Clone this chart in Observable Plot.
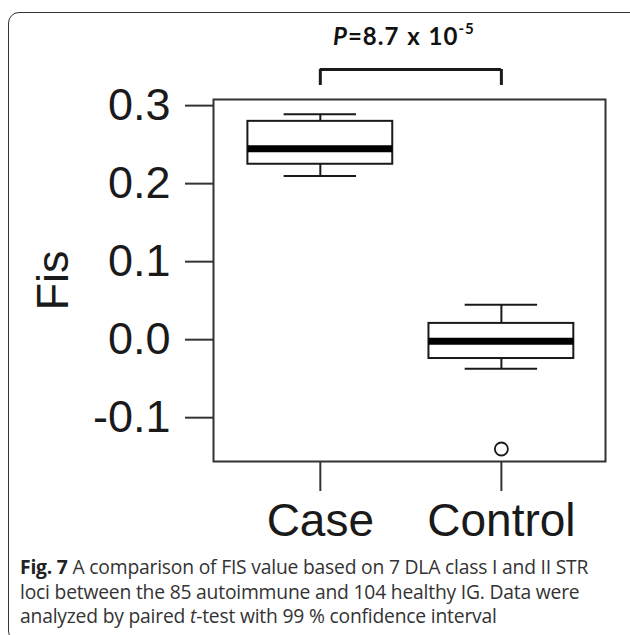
<!DOCTYPE html>
<html>
<head>
<meta charset="utf-8">
<script src="https://cdn.jsdelivr.net/npm/d3@7"></script>
<script src="https://cdn.jsdelivr.net/npm/@observablehq/plot@0.6"></script>
<style>
  html, body { margin: 0; padding: 0; background: #fff; overflow: hidden; }
  #page { position: relative; width: 630px; height: 635px; overflow: hidden; }
  #border { position: absolute; left: 8px; top: 12px; width: 640px; height: 630px;
            border: 1.5px solid #333; border-radius: 11px; box-sizing: border-box; }
  #chart { position: absolute; left: 0; top: 0; }
  #ptitle { position: absolute; left: 333px; top: 21px; font-family: Lato, "Open Sans", sans-serif;
            font-weight: 700; font-size: 24px; color: #111; white-space: nowrap; letter-spacing: 1px; word-spacing: 1px; }
  #ptitle sup { font-size: 15px; position: relative; top: -2px; }
  #caption { position: absolute; left: 20px; top: 555px; font-family: "Open Sans", sans-serif;
             font-size: 19.3px; line-height: 24.5px; color: #333; white-space: nowrap; letter-spacing: -0.2px; }
  #caption b { font-weight: 700; color: #222; }
</style>
</head>
<body>
<div id="page">
  <div id="border"></div>
  <div id="chart"></div>
  <div id="ptitle"><i>P</i>=8.7 x 10<sup>-5</sup></div>
  <div id="caption"><b>Fig. 7</b> A comparison of FIS value based on 7 DLA class I and II STR<br>loci between the 85 autoimmune and 104 healthy IG. Data were<br>analyzed by paired <i>t</i>-test with 99 % confidence interval</div>
</div>
<script>
// Data
const groups    = ["Case", "Control"];
const lowerWhisker = [0.206, -0.041];
const q1        = [0.221, -0.028];
const median    = [0.241, -0.006];
const q3        = [0.276, 0.017];
const upperWhisker = [0.285, 0.041];
const outlierGroup = ["Control"];
const outlierValue = [-0.144];
const yTicks = [-0.1, 0.0, 0.1, 0.2, 0.3];
const yLabel = "Fis";
// bracket annotation (data units)
const bracketLevel = 0.3425;
const bracketLeg = 0.322;

const boxes = groups.map((g, i) => ({
  group: g, pos: i + 1,
  lo: lowerWhisker[i], q1: q1[i], med: median[i], q3: q3[i], hi: upperWhisker[i]
}));
const outliers = outlierGroup.map((g, i) => ({pos: groups.indexOf(g) + 1, v: outlierValue[i]}));
const bracket = [{x1: 1, x2: 2}];

const halfBox = 0.4, halfCap = 0.2;
const ink = "#1a1a1a";

const plot = Plot.plot({
  width: 630,
  height: 560,
  marginLeft: 213,
  marginRight: 25,
  marginTop: 99,
  marginBottom: 99,
  x: {type: "linear", domain: [0.41, 2.575]},
  y: {domain: [-0.160, 0.304]},
  style: {fontFamily: "'Liberation Sans', Arial, sans-serif", background: "transparent", overflow: "visible"},
  marks: [
    Plot.frame({stroke: "#333", strokeWidth: 2}),
    // whiskers
    Plot.ruleX(boxes, {x: "pos", y1: "q3", y2: "hi", stroke: ink, strokeWidth: 2}),
    Plot.ruleX(boxes, {x: "pos", y1: "lo", y2: "q1", stroke: ink, strokeWidth: 2}),
    Plot.ruleY(boxes, {y: "hi", x1: d => d.pos - halfCap, x2: d => d.pos + halfCap, stroke: ink, strokeWidth: 2}),
    Plot.ruleY(boxes, {y: "lo", x1: d => d.pos - halfCap, x2: d => d.pos + halfCap, stroke: ink, strokeWidth: 2}),
    // boxes
    Plot.rect(boxes, {x1: d => d.pos - halfBox, x2: d => d.pos + halfBox, y1: "q1", y2: "q3", fill: "white", stroke: ink, strokeWidth: 2}),
    // medians
    Plot.ruleY(boxes, {y: "med", x1: d => d.pos - halfBox, x2: d => d.pos + halfBox, stroke: "black", strokeWidth: 7}),
    // outliers
    Plot.dot(outliers, {x: "pos", y: "v", r: 6.5, fill: "white", stroke: ink, strokeWidth: 1.8}),
    // axes
    Plot.axisY({ticks: yTicks, tickFormat: d => d.toFixed(1), tickSize: 28, tickPadding: 15, fontSize: 45,
                stroke: "#333", strokeWidth: 2, color: ink, label: null, dy: 3}),
    Plot.axisX({ticks: [1, 2], tickFormat: d => groups[d - 1], tickSize: 30, tickPadding: 12, fontSize: 46,
                stroke: "#333", strokeWidth: 2, color: ink, label: null}),
    Plot.text([yLabel], {text: d => d, frameAnchor: "left", rotate: -90, dx: -160, fontSize: 45, fill: ink, textAnchor: "middle"}),
    // significance bracket
    Plot.ruleY(bracket, {y: () => bracketLevel, x1: "x1", x2: "x2", stroke: ink, strokeWidth: 3, clip: false}),
    Plot.ruleX(bracket, {x: "x1", y1: () => bracketLeg, y2: () => bracketLevel, stroke: ink, strokeWidth: 3, clip: false}),
    Plot.ruleX(bracket, {x: "x2", y1: () => bracketLeg, y2: () => bracketLevel, stroke: ink, strokeWidth: 3, clip: false})
  ]
});
document.getElementById("chart").appendChild(plot);
</script>
</body>
</html>
